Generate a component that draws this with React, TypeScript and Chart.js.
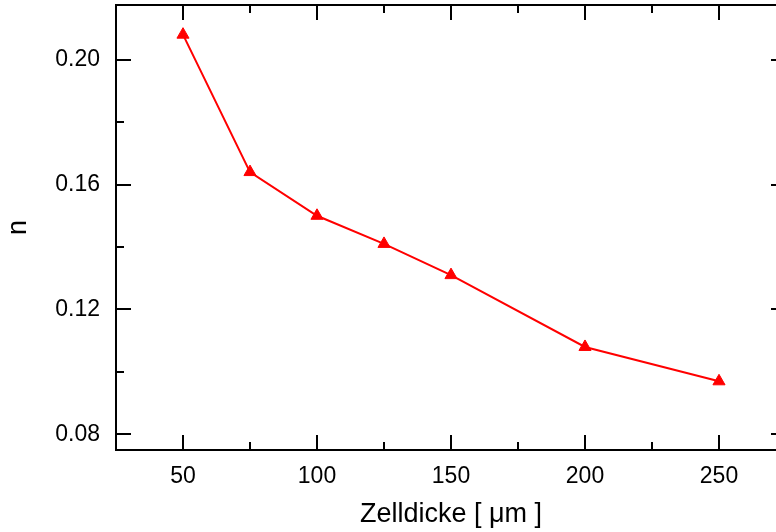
import React, { useEffect, useRef } from "react";
import { Chart, registerables } from "chart.js";

Chart.register(...registerables);

const thicknessUm = [50, 75, 100, 125, 150, 200, 250];
const nValues = [0.208, 0.164, 0.15, 0.141, 0.131, 0.108, 0.097];
const xMajorTicks = [50, 100, 150, 200, 250];
const xMinorTicks = [75, 125, 175, 225];
const yMajorTicks = [0.08, 0.12, 0.16, 0.2];
const yMinorTicks = [0.1, 0.14, 0.18];
const xTitle = "Zelldicke [ \u03bcm ]";
const yTitle = "n";

const FONT = "'Liberation Sans', Arial, Helvetica, sans-serif";

const framePlugin = {
  id: "frameTicks",
  afterDraw(chart: any) {
    const { ctx, chartArea, scales } = chart;
    const { left, right, top, bottom } = chartArea;
    const xs = scales.x;
    const ys = scales.y;
    ctx.save();
    ctx.strokeStyle = "#000";
    ctx.lineWidth = 2;
    ctx.lineCap = "butt";
    ctx.strokeRect(left, top, right - left, bottom - top);
    const drawX = (vals: number[], len: number) => {
      vals.forEach((v) => {
        const px = Math.round(xs.getPixelForValue(v));
        ctx.beginPath();
        ctx.moveTo(px, bottom);
        ctx.lineTo(px, bottom - len);
        ctx.moveTo(px, top);
        ctx.lineTo(px, top + len);
        ctx.stroke();
      });
    };
    const drawY = (vals: number[], len: number) => {
      vals.forEach((v) => {
        const py = Math.round(ys.getPixelForValue(v));
        ctx.beginPath();
        ctx.moveTo(left, py);
        ctx.lineTo(left + len, py);
        ctx.moveTo(right, py);
        ctx.lineTo(right - len, py);
        ctx.stroke();
      });
    };
    drawX(xMajorTicks, 15);
    drawX(xMinorTicks, 8);
    drawY(yMajorTicks, 15);
    drawY(yMinorTicks, 8);
    ctx.restore();
  },
};

export default function App() {
  const ref = useRef<HTMLCanvasElement | null>(null);
  useEffect(() => {
    if (!ref.current) return;
    const chart = new Chart(ref.current, {
      type: "line",
      data: {
        datasets: [
          {
            data: thicknessUm.map((x, i) => ({ x, y: nValues[i] })),
            borderColor: "#ff0000",
            backgroundColor: "#ff0000",
            borderWidth: 2,
            pointStyle: "triangle",
            pointRadius: 7,
            pointBorderWidth: 1,
            pointBackgroundColor: "#ff0000",
            pointBorderColor: "#ff0000",
            tension: 0,
          },
        ],
      },
      options: {
        animation: false,
        responsive: false,
        devicePixelRatio: 1,
        layout: { autoPadding: false, padding: { top: 5, left: 0, right: 0, bottom: 0 } },
        plugins: {
          legend: { display: false },
          tooltip: { enabled: false },
        },
        scales: {
          x: {
            type: "linear",
            min: 25,
            max: 275,
            grid: { display: false, drawTicks: false },
            border: { display: false },
            afterBuildTicks: (s: any) => {
              s.ticks = xMajorTicks.map((v) => ({ value: v }));
            },
            afterFit: (s: any) => {
              s.height = 82;
              s.paddingLeft = 0;
              s.paddingRight = 0;
              s.paddingTop = 0;
              s.paddingBottom = 0;
            },
            ticks: {
              color: "#000",
              padding: 13,
              maxRotation: 0,
              font: { family: FONT, size: 23 },
              callback: (v: any) => String(v),
            },
            title: {
              display: true,
              text: xTitle,
              color: "#000",
              font: { family: FONT, size: 27, lineHeight: 1.2 },
              padding: { top: 0, bottom: 1 },
            },
          },
          y: {
            type: "linear",
            min: 0.075,
            max: 0.2175,
            grid: { display: false, drawTicks: false },
            border: { display: false },
            afterBuildTicks: (s: any) => {
              s.ticks = yMajorTicks.map((v) => ({ value: v }));
            },
            afterFit: (s: any) => {
              s.width = 116;
              s.paddingLeft = 0;
              s.paddingRight = 0;
              s.paddingTop = 0;
              s.paddingBottom = 0;
            },
            ticks: {
              color: "#000",
              padding: 16,
              font: { family: FONT, size: 23 },
              callback: (v: any) => Number(v).toFixed(2),
            },
            title: {
              display: true,
              text: yTitle,
              color: "#000",
              font: { family: FONT, size: 27, lineHeight: 1.2 },
              padding: { top: 2, bottom: 0 },
            },
          },
        },
      },
      plugins: [framePlugin],
    });
    return () => chart.destroy();
  }, []);
  return (
    <div
      style={{
        position: "fixed",
        left: 0,
        top: 0,
        width: 776,
        height: 532,
        overflow: "hidden",
        background: "#fff",
      }}
    >
      <canvas ref={ref} width={786} height={532} style={{ width: 786, height: 532, display: "block" }} />
    </div>
  );
}
